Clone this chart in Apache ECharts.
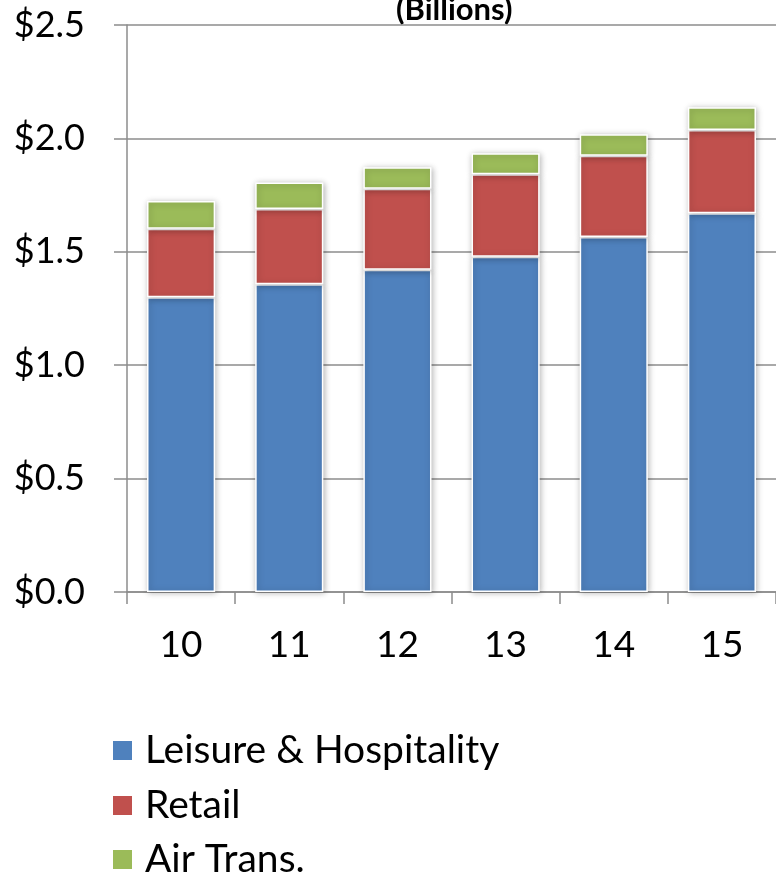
<!DOCTYPE html>
<html>
<head>
<meta charset="utf-8">
<script src="https://cdn.jsdelivr.net/npm/echarts@6/dist/echarts.min.js"></script>
<style>
  html, body { margin: 0; padding: 0; background: #ffffff; }
  #chart { width: 776px; height: 877px; }
</style>
</head>
<body>
<div id="chart"></div>
<script>
const categories = ['10', '11', '12', '13', '14', '15'];
const leisure = [1.30, 1.357, 1.421, 1.478, 1.565, 1.670];
const retail = [0.302, 0.332, 0.357, 0.364, 0.359, 0.367];
const airTrans = [0.122, 0.117, 0.095, 0.092, 0.094, 0.100];
const seriesNames = ['Leisure & Hospitality', 'Retail', 'Air Trans.'];

const chart = echarts.init(document.getElementById('chart'), null, { renderer: 'canvas' });
const FONT = 'Lato, "Open Sans", sans-serif';
const barStyle = (color) => ({
  color: color,
  borderColor: '#ffffff',
  borderWidth: 1.5,
  shadowBlur: 6,
  shadowColor: 'rgba(0,0,0,0.28)',
  shadowOffsetX: 1,
  shadowOffsetY: 1
});
const legendTops = [731, 786, 840];
const legends = seriesNames.map((name, i) => ({
  orient: 'vertical',
  left: 111,
  top: legendTops[i],
  padding: 0,
  itemWidth: 21,
  itemHeight: 21,
  icon: 'rect',
  data: [name],
  textStyle: {
    fontFamily: FONT,
    fontSize: 39,
    lineHeight: 38,
    color: '#000000',
    padding: [0, 0, 0, 7]
  }
}));

chart.setOption({
  animation: false,
  backgroundColor: '#ffffff',
  graphic: [{
    type: 'text',
    left: 396,
    top: -6,
    style: {
      text: '(Billions)',
      font: 'bold 31px ' + FONT,
      fill: '#000000'
    }
  }],
  legend: legends,
  grid: {
    left: 127,
    right: -3,
    top: 25,
    bottom: 285,
    containLabel: false
  },
  xAxis: {
    type: 'category',
    data: categories,
    axisLine: { show: true, lineStyle: { color: '#8C8C8C', width: 1.5 } },
    axisTick: { show: true, length: 12, lineStyle: { color: '#8C8C8C', width: 1.5 } },
    axisLabel: {
      margin: 35,
      fontFamily: FONT,
      fontSize: 37,
      color: '#000000'
    }
  },
  yAxis: {
    type: 'value',
    min: 0,
    max: 2.5,
    interval: 0.5,
    axisLine: { show: true, lineStyle: { color: '#8C8C8C', width: 1.5 } },
    axisTick: { show: true, length: 13, lineStyle: { color: '#8C8C8C', width: 1.5 } },
    splitLine: { show: true, lineStyle: { color: '#8C8C8C', width: 1.5 } },
    axisLabel: {
      margin: 42,
      fontFamily: FONT,
      fontSize: 36,
      color: '#000000',
      formatter: (v) => '$' + v.toFixed(1)
    }
  },
  series: [
    { name: seriesNames[0], type: 'bar', stack: 'total', barWidth: '63%', data: leisure, itemStyle: barStyle('#4F81BD') },
    { name: seriesNames[1], type: 'bar', stack: 'total', barWidth: '63%', data: retail, itemStyle: barStyle('#C0504D') },
    { name: seriesNames[2], type: 'bar', stack: 'total', barWidth: '63%', data: airTrans, itemStyle: barStyle('#9BBB59') }
  ]
});
</script>
</body>
</html>
